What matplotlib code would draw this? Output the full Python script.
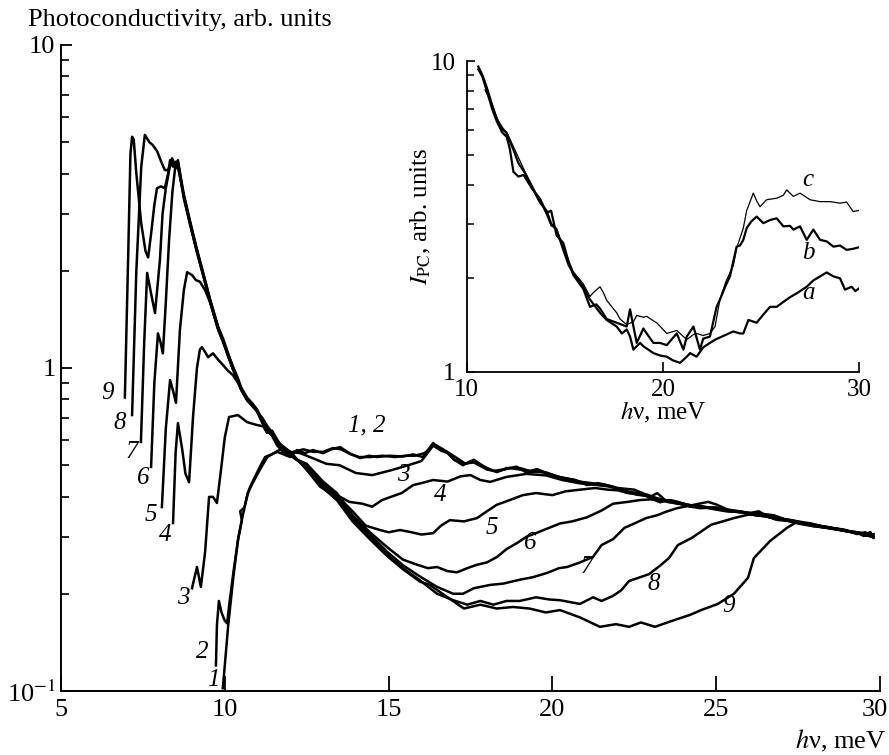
import matplotlib
matplotlib.use('Agg')
import matplotlib.pyplot as plt
import matplotlib.transforms as mtransforms
from matplotlib.ticker import FixedLocator, FixedFormatter, LogLocator, NullLocator, NullFormatter

plt.rcParams['font.family'] = ['Liberation Serif', 'DejaVu Serif']
plt.rcParams['mathtext.fontset'] = 'stix'

# ---------------- main panel data (hv in meV, photoconductivity arb. units) ----------------
c1_x = [9.94, 10.0, 10.1, 10.25, 10.4, 10.52, 10.47, 10.6, 10.68, 10.77, 10.92, 11.07, 11.23, 11.38, 11.6, 11.8,
        12.0, 12.2, 12.45, 12.69, 13.0, 13.25, 13.52, 13.8, 14.13, 14.4, 14.65, 15.0, 15.44, 15.75, 16.05, 16.36,
        16.55, 16.78, 17.0, 17.27, 17.5, 17.7, 18.0, 18.31, 18.6, 19.01, 19.3, 19.53, 19.9, 20.32, 20.7, 21.06,
        21.4, 21.8, 22.28, 22.7, 23.0, 23.28, 23.6, 23.9, 24.29, 24.6, 25.0, 25.33, 25.6, 26.0, 26.34, 26.7,
        27.0, 27.34, 27.7, 28.0, 28.38, 28.7, 29.0, 29.39, 29.6, 29.75]
c1_y = [0.102, 0.12, 0.158, 0.22, 0.293, 0.338, 0.36, 0.37, 0.40, 0.428, 0.46, 0.494, 0.53, 0.538, 0.55, 0.54,
        0.53, 0.557, 0.545, 0.557, 0.545, 0.56, 0.569, 0.545, 0.526, 0.535, 0.53, 0.535, 0.532, 0.54, 0.53, 0.586,
        0.56, 0.55, 0.52, 0.50, 0.515, 0.51, 0.49, 0.476, 0.49, 0.49, 0.48, 0.486, 0.47, 0.456, 0.45, 0.434,
        0.44, 0.43, 0.413, 0.41, 0.395, 0.384, 0.39, 0.38, 0.371, 0.372, 0.366, 0.363, 0.36, 0.356, 0.351, 0.345,
        0.342, 0.334, 0.33, 0.326, 0.32, 0.316, 0.313, 0.309, 0.305, 0.30]

c2_x = [9.73, 9.76, 9.82, 9.9, 10.0, 10.07, 10.15, 10.28, 10.42, 10.55, 10.7, 10.85, 11.0, 11.15, 11.3, 11.5,
        11.7, 11.9, 12.1, 12.4, 12.7, 13.0, 13.3, 13.55, 13.85, 14.1, 14.45, 14.8, 15.2, 15.5, 15.8, 16.1, 16.4,
        16.6, 16.85, 17.1, 17.35, 17.6, 17.9, 18.2, 18.5, 18.9, 19.2, 19.6, 20.0, 20.4, 20.8, 21.2, 21.6, 22.0,
        22.5, 23.0, 23.2, 23.5, 24.0, 24.5, 25.0, 25.5, 26.0, 26.3, 26.6, 27.0, 27.5, 28.0, 28.5, 29.0, 29.3,
        29.5, 29.7, 29.8]
c2_y = [0.12, 0.16, 0.19, 0.175, 0.165, 0.162, 0.19, 0.24, 0.30, 0.35, 0.41, 0.44, 0.47, 0.50, 0.53, 0.545,
        0.56, 0.535, 0.55, 0.56, 0.55, 0.55, 0.565, 0.56, 0.54, 0.53, 0.53, 0.535, 0.53, 0.535, 0.535, 0.545, 0.58,
        0.565, 0.545, 0.525, 0.505, 0.52, 0.495, 0.48, 0.485, 0.495, 0.475, 0.48, 0.465, 0.455, 0.445, 0.44, 0.435,
        0.425, 0.42, 0.40, 0.41, 0.385, 0.38, 0.368, 0.37, 0.36, 0.355, 0.36, 0.345, 0.34, 0.33, 0.323, 0.32,
        0.312, 0.31, 0.302, 0.31, 0.298]

c3_x = [9.0, 9.15, 9.27, 9.4, 9.52, 9.64, 9.76, 9.88, 10.0, 10.13, 10.4, 10.68, 10.98, 11.17, 11.29, 11.44,
        11.6, 11.8, 12.0, 12.3, 12.8, 13.1, 13.5, 14.0, 14.5, 15.1, 15.6, 16.0, 16.36, 16.6, 16.8, 17.0, 17.3,
        17.6, 18.0, 18.3, 18.7, 19.0, 19.4, 19.8, 20.2, 20.6, 21.0, 21.4, 21.8, 22.2, 22.6, 23.0, 23.4, 23.8,
        24.2, 24.6, 25.0, 25.4, 25.8, 26.2, 26.6, 27.0, 27.4, 27.8, 28.2, 28.6, 29.0, 29.3, 29.55, 29.8]
c3_y = [0.208, 0.242, 0.21, 0.27, 0.399, 0.399, 0.382, 0.48, 0.61, 0.705, 0.715, 0.68, 0.666, 0.66, 0.63, 0.64,
        0.60, 0.56, 0.55, 0.545, 0.52, 0.505, 0.50, 0.473, 0.466, 0.483, 0.50, 0.515, 0.575, 0.555, 0.545, 0.52,
        0.505, 0.51, 0.485, 0.478, 0.49, 0.485, 0.478, 0.475, 0.46, 0.452, 0.44, 0.435, 0.43, 0.415, 0.405, 0.40,
        0.39, 0.385, 0.372, 0.37, 0.368, 0.36, 0.358, 0.35, 0.346, 0.34, 0.333, 0.328, 0.322, 0.318, 0.313, 0.306,
        0.31, 0.30]

c4_x = [8.42, 8.5, 8.57, 8.7, 8.8, 8.91, 9.03, 9.15, 9.24, 9.3, 9.4, 9.49, 9.64, 9.8, 9.95, 10.1, 10.25,
        10.4, 10.55, 10.7, 10.85, 11.0, 11.15, 11.3, 11.45, 11.6, 11.8, 12.0, 12.3, 12.6, 12.9, 13.2, 13.5,
        13.8, 14.2, 14.5, 14.8, 15.1, 15.4, 15.75, 16.0, 16.36, 16.8, 17.2, 17.5, 17.8, 18.1, 18.6, 19.2, 19.8,
        20.3, 20.8, 21.3, 21.7, 22.1, 22.5, 22.9, 23.3, 23.7, 24.1, 24.5, 24.9, 25.3, 25.7, 26.1, 26.5, 26.9,
        27.3, 27.7, 28.1, 28.5, 28.9, 29.2, 29.5, 29.7]
c4_y = [0.331, 0.55, 0.675, 0.56, 0.47, 0.443, 0.705, 1.0, 1.14, 1.16, 1.12, 1.08, 1.11, 1.06, 1.02, 0.98,
        0.95, 0.90, 0.84, 0.79, 0.76, 0.73, 0.70, 0.66, 0.63, 0.59, 0.57, 0.55, 0.51, 0.47, 0.43, 0.41, 0.40,
        0.385, 0.38, 0.372, 0.39, 0.40, 0.41, 0.434, 0.44, 0.45, 0.445, 0.462, 0.466, 0.45, 0.444, 0.46, 0.47,
        0.465, 0.45, 0.44, 0.435, 0.43, 0.42, 0.41, 0.405, 0.39, 0.385, 0.375, 0.374, 0.366, 0.36, 0.36, 0.352,
        0.348, 0.338, 0.336, 0.33, 0.325, 0.32, 0.315, 0.31, 0.306, 0.302]

c5_x = [8.08, 8.2, 8.33, 8.42, 8.51, 8.63, 8.75, 8.85, 9.0, 9.12, 9.24, 9.4, 9.55, 9.8, 9.95, 10.1, 10.25,
        10.4, 10.5, 10.68, 10.85, 10.98, 11.15, 11.3, 11.45, 11.6, 11.8, 12.0, 12.2, 12.5, 12.7, 13.0, 13.4,
        13.9, 14.3, 14.74, 15.0, 15.35, 15.7, 16.0, 16.36, 16.6, 16.87, 17.3, 17.7, 18.0, 18.3, 18.7, 19.1,
        19.5, 20.0, 20.4, 20.85, 21.3, 21.7, 22.0, 22.3, 22.7, 23.0, 23.3, 23.7, 24.1, 24.5, 24.9, 25.3, 25.7,
        26.1, 26.5, 26.8, 27.2, 27.6, 28.0, 28.4, 28.8, 29.2, 29.5, 29.75]
c5_y = [0.371, 0.65, 0.918, 0.85, 0.78, 1.31, 1.74, 1.98, 1.94, 1.87, 1.85, 1.74, 1.6, 1.32, 1.2, 1.09, 0.99,
        0.91, 0.86, 0.80, 0.77, 0.74, 0.69, 0.65, 0.62, 0.585, 0.555, 0.54, 0.52, 0.50, 0.47, 0.44, 0.405,
        0.36, 0.325, 0.315, 0.31, 0.315, 0.31, 0.305, 0.308, 0.325, 0.338, 0.335, 0.343, 0.36, 0.377, 0.39, 0.404,
        0.41, 0.404, 0.415, 0.42, 0.425, 0.42, 0.418, 0.41, 0.405, 0.40, 0.39, 0.388, 0.378, 0.372, 0.37, 0.362,
        0.36, 0.352, 0.35, 0.34, 0.338, 0.33, 0.325, 0.322, 0.315, 0.31, 0.308, 0.30]

c6_x = [7.75, 7.85, 7.96, 8.04, 8.11, 8.2, 8.3, 8.4, 8.5, 8.57, 8.75, 8.94, 9.15, 9.33, 9.55, 9.8, 9.95,
        10.1, 10.25, 10.4, 10.5, 10.68, 10.85, 10.98, 11.15, 11.3, 11.45, 11.6, 11.8, 12.0, 12.2, 12.5, 12.7,
        13.0, 13.42, 13.9, 14.43, 14.95, 15.44, 15.87, 16.2, 16.48, 16.8, 17.09, 17.4, 17.7, 18.0, 18.31, 18.6,
        18.92, 19.2, 19.53, 19.9, 20.23, 20.6, 21.06, 21.5, 21.85, 22.3, 22.67, 23.0, 23.4, 23.8, 24.2, 24.6,
        25.0, 25.4, 25.8, 26.2, 26.6, 27.0, 27.4, 27.8, 28.2, 28.6, 29.0, 29.3, 29.6, 29.8]
c6_y = [0.494, 0.9, 1.28, 1.2, 1.11, 1.6, 2.5, 3.5, 4.3, 4.35, 3.45, 2.85, 2.33, 1.99, 1.63, 1.34, 1.23,
        1.11, 1.01, 0.93, 0.87, 0.81, 0.775, 0.745, 0.69, 0.645, 0.625, 0.585, 0.555, 0.54, 0.52, 0.505, 0.48,
        0.445, 0.41, 0.35, 0.31, 0.279, 0.255, 0.246, 0.24, 0.242, 0.235, 0.233, 0.24, 0.246, 0.25, 0.26, 0.275,
        0.287, 0.30, 0.309, 0.32, 0.33, 0.335, 0.345, 0.362, 0.38, 0.385, 0.39, 0.392, 0.388, 0.38, 0.376, 0.37,
        0.366, 0.36, 0.357, 0.35, 0.347, 0.34, 0.335, 0.328, 0.322, 0.317, 0.312, 0.308, 0.302, 0.306]

c7_x = [7.44, 7.54, 7.63, 7.75, 7.87, 8.02, 8.1, 8.2, 8.33, 8.39, 8.48, 8.57, 8.75, 8.94, 9.15, 9.33, 9.55,
        9.8, 9.95, 10.1, 10.25, 10.4, 10.5, 10.68, 10.85, 10.98, 11.15, 11.3, 11.45, 11.6, 11.8, 12.0, 12.2,
        12.5, 12.7, 13.0, 13.42, 13.9, 14.43, 14.95, 15.44, 15.96, 16.48, 16.97, 17.27, 17.6, 18.1, 18.5, 19.0,
        19.4, 19.84, 20.2, 20.45, 20.84, 21.24, 21.5, 21.85, 22.2, 22.5, 22.86, 23.2, 23.44, 23.8, 24.26, 24.75,
        25.0, 25.33, 25.7, 26.1, 26.5, 26.9, 27.3, 27.7, 28.1, 28.5, 28.9, 29.2, 29.5, 29.7]
c7_y = [0.59, 1.2, 1.97, 1.7, 1.48, 2.16, 3.0, 3.6, 4.25, 4.46, 4.25, 4.4, 3.35, 2.78, 2.28, 1.95, 1.6,
        1.31, 1.21, 1.09, 0.99, 0.915, 0.855, 0.795, 0.765, 0.735, 0.675, 0.64, 0.615, 0.575, 0.55, 0.535, 0.52,
        0.50, 0.47, 0.435, 0.40, 0.345, 0.305, 0.27, 0.245, 0.226, 0.21, 0.20, 0.20, 0.208, 0.213, 0.215, 0.221,
        0.225, 0.232, 0.24, 0.242, 0.25, 0.26, 0.283, 0.295, 0.32, 0.33, 0.343, 0.35, 0.358, 0.368, 0.376, 0.385,
        0.378, 0.365, 0.36, 0.355, 0.35, 0.342, 0.338, 0.33, 0.326, 0.32, 0.316, 0.31, 0.305, 0.31]

c8_x = [7.17, 7.3, 7.45, 7.56, 7.7, 7.8, 7.93, 8.08, 8.17, 8.27, 8.35, 8.42, 8.5, 8.57, 8.75, 8.94, 9.15,
        9.33, 9.55, 9.8, 9.95, 10.1, 10.25, 10.4, 10.5, 10.68, 10.85, 10.98, 11.15, 11.3, 11.45, 11.6, 11.8,
        12.0, 12.2, 12.5, 12.7, 13.0, 13.42, 13.9, 14.43, 14.95, 15.44, 15.96, 16.48, 16.97, 17.4, 17.8, 18.2,
        18.6, 19.0, 19.5, 19.9, 20.23, 20.84, 21.24, 21.5, 21.85, 22.1, 22.34, 22.95, 23.3, 23.56, 23.83, 24.26,
        24.84, 25.2, 25.54, 25.9, 26.25, 26.76, 27.1, 27.5, 27.9, 28.3, 28.7, 29.0, 29.3, 29.55, 29.8]
c8_y = [0.715, 2.0, 4.2, 5.27, 5.0, 4.9, 4.7, 4.3, 4.1, 4.1, 4.3, 4.2, 4.35, 4.2, 3.4, 2.82, 2.31,
        1.98, 1.63, 1.33, 1.22, 1.1, 1.0, 0.92, 0.86, 0.80, 0.77, 0.74, 0.68, 0.64, 0.62, 0.58, 0.55,
        0.54, 0.52, 0.495, 0.465, 0.43, 0.395, 0.34, 0.30, 0.265, 0.24, 0.22, 0.20, 0.191, 0.185, 0.19, 0.185,
        0.19, 0.19, 0.195, 0.192, 0.191, 0.186, 0.195, 0.19, 0.197, 0.205, 0.219, 0.23, 0.245, 0.258, 0.283, 0.298,
        0.327, 0.335, 0.343, 0.35, 0.355, 0.35, 0.34, 0.335, 0.33, 0.322, 0.318, 0.312, 0.31, 0.303, 0.305]

c9_x = [6.95, 7.05, 7.12, 7.17, 7.22, 7.3, 7.45, 7.58, 7.66, 7.75, 7.85, 7.93, 8.05, 8.17, 8.27, 8.33, 8.42,
        8.5, 8.57, 8.75, 8.94, 9.15, 9.33, 9.55, 9.8, 9.95, 10.1, 10.25, 10.4, 10.5, 10.68, 10.85, 10.98, 11.15,
        11.3, 11.45, 11.6, 11.8, 12.0, 12.2, 12.5, 12.7, 13.0, 13.42, 13.9, 14.43, 14.95, 15.44, 15.96, 16.26,
        16.8, 17.3, 17.8, 18.3, 18.8, 19.3, 19.8, 20.23, 20.84, 21.45, 21.94, 22.34, 22.7, 23.13, 23.74, 24.2,
        24.54, 25.05, 25.54, 25.97, 26.15, 26.64, 27.16, 27.47, 27.8, 28.2, 28.6, 29.0, 29.3, 29.6, 29.8]
c9_y = [0.81, 2.2, 4.6, 5.2, 5.1, 4.0, 2.8, 2.3, 2.2, 2.6, 3.2, 3.6, 3.65, 3.6, 4.0, 4.4, 4.3,
        4.15, 4.25, 3.38, 2.8, 2.29, 1.96, 1.61, 1.32, 1.21, 1.1, 1.0, 0.92, 0.86, 0.8, 0.77, 0.74, 0.68,
        0.64, 0.62, 0.58, 0.55, 0.54, 0.52, 0.49, 0.465, 0.425, 0.39, 0.335, 0.295, 0.262, 0.238, 0.218, 0.213,
        0.195, 0.18, 0.185, 0.18, 0.182, 0.18, 0.175, 0.178, 0.169, 0.158, 0.161, 0.158, 0.163, 0.158, 0.166, 0.172,
        0.178, 0.186, 0.20, 0.224, 0.258, 0.291, 0.32, 0.334, 0.328, 0.322, 0.318, 0.312, 0.308, 0.303, 0.30]

main_curves = [(c1_x, c1_y), (c2_x, c2_y), (c3_x, c3_y), (c4_x, c4_y), (c5_x, c5_y),
               (c6_x, c6_y), (c7_x, c7_y), (c8_x, c8_y), (c9_x, c9_y)]

# curve labels: text, hv, value
label_text = ['9', '8', '7', '6', '5', '4', '3', '2', '1',
              '1, 2', '3', '4', '5', '6', '7', '8', '9']
label_x = [6.43, 6.80, 7.17, 7.50, 7.75, 8.17, 8.72, 9.30, 9.64,
           14.34, 15.44, 16.57, 18.16, 19.32, 21.06, 23.10, 25.39]
label_y = [0.837, 0.676, 0.55, 0.456, 0.351, 0.304, 0.194, 0.132, 0.108,
           0.666, 0.466, 0.404, 0.32, 0.287, 0.242, 0.214, 0.183]

main_xticks = [5, 10, 15, 20, 25, 30]
main_yticks = [0.1, 1, 10]
main_yticklabels = [r'10$^{-1}$', '1', '10']

# ---------------- inset data ----------------
a_x = [10.59, 10.8, 11.0, 11.3, 11.53, 11.8, 12.04, 12.38, 12.63, 12.97, 13.31, 13.74, 14.07, 14.3, 14.58, 14.92,
       15.2, 15.43, 15.94, 16.28, 16.79, 17.13, 17.64, 17.9, 18.15, 18.32, 18.49, 18.83, 19.0, 19.51, 19.85, 20.19,
       20.5, 20.87, 21.21, 21.38, 21.71, 22.05, 22.39, 22.65, 23.0, 23.58, 23.92, 24.09, 24.35, 24.77, 25.11,
       25.45, 25.79, 26.13, 26.47, 26.81, 27.32, 27.66, 28.0, 28.34, 28.68, 29.02, 29.27, 29.61, 29.8, 30.0]
a_y = [9.6, 9.0, 8.3, 7.2, 6.5, 6.1, 5.85, 5.18, 4.7, 4.36, 3.94, 3.5, 3.3, 3.0, 2.86, 2.47,
       2.2, 2.08, 1.88, 1.71, 1.55, 1.47, 1.40, 1.33, 1.37, 1.3, 1.18, 1.24, 1.21, 1.15, 1.13, 1.12,
       1.09, 1.07, 1.12, 1.15, 1.12, 1.2, 1.24, 1.27, 1.3, 1.35, 1.33, 1.33, 1.47, 1.44, 1.53,
       1.62, 1.62, 1.68, 1.74, 1.79, 1.88, 1.97, 2.03, 2.09, 2.03, 2.0, 1.84, 1.88, 1.82, 1.86]

b_x = [10.59, 10.8, 11.0, 11.3, 11.53, 11.8, 12.04, 12.2, 12.38, 12.63, 12.9, 13.31, 13.74, 14.07, 14.3, 14.58,
       14.92, 15.2, 15.43, 15.94, 16.28, 16.6, 16.79, 17.13, 17.64, 18.15, 18.32, 18.66, 19.0, 19.17, 19.51,
       19.85, 20.19, 20.7, 21.04, 21.21, 21.55, 21.88, 22.05, 22.39, 22.56, 22.73, 22.9, 23.2, 23.41, 23.75,
       23.92, 24.09, 24.26, 24.5, 24.77, 25.11, 25.45, 25.79, 26.13, 26.47, 26.64, 26.98, 27.32, 27.66, 28.0,
       28.34, 28.68, 29.02, 29.35, 29.69, 30.0]
b_y = [9.4, 8.9, 8.1, 7.0, 6.4, 5.9, 5.7, 5.2, 4.4, 4.25, 4.3, 3.9, 3.6, 3.25, 3.3, 2.75,
       2.6, 2.25, 2.05, 1.85, 1.62, 1.65, 1.6, 1.48, 1.44, 1.40, 1.59, 1.24, 1.38, 1.33, 1.24,
       1.24, 1.22, 1.33, 1.18, 1.3, 1.40, 1.18, 1.28, 1.30, 1.45, 1.62, 1.71, 1.9, 2.03, 2.53,
       2.55, 2.66, 2.9, 3.05, 3.16, 3.01, 3.08, 3.12, 2.94, 2.95, 2.87, 2.94, 2.66, 2.87, 2.66,
       2.63, 2.53, 2.55, 2.47, 2.49, 2.52]

c_x = [10.93, 11.2, 11.53, 11.8, 12.04, 12.38, 12.63, 12.97, 13.31, 13.74, 14.07, 14.3, 14.58, 14.92, 15.43,
       15.94, 16.28, 16.45, 16.79, 16.96, 17.13, 17.64, 17.81, 18.15, 18.49, 18.66, 19.0, 19.17, 19.51, 19.68,
       20.19, 20.7, 21.04, 21.21, 21.55, 21.71, 22.05, 22.39, 22.65, 22.9, 23.2, 23.58, 23.75, 24.09, 24.26,
       24.6, 24.77, 24.94, 25.28, 25.79, 26.13, 26.3, 26.64, 26.98, 27.49, 28.0, 28.51, 29.02, 29.35, 29.69, 30.0]
c_y = [8.07, 7.5, 6.6, 6.0, 5.9, 5.3, 4.9, 4.4, 4.0, 3.55, 3.2, 2.95, 2.9, 2.5, 2.1,
       1.92, 1.75, 1.80, 1.88, 1.80, 1.70, 1.55, 1.48, 1.42, 1.45, 1.52, 1.50, 1.51, 1.46, 1.44,
       1.33, 1.36, 1.30, 1.27, 1.32, 1.33, 1.31, 1.33, 1.40, 1.71, 1.95, 2.2, 2.5, 2.9, 3.3,
       3.76, 3.55, 3.4, 3.58, 3.62, 3.7, 3.85, 3.67, 3.76, 3.58, 3.53, 3.53, 3.49, 3.52, 3.28, 3.31]

inset_label_text = ['c', 'b', 'a']
inset_label_x = [27.39, 27.39, 27.39]
inset_label_y = [4.14, 2.41, 1.79]

inset_xticks = [10, 20, 30]
inset_yticks = [1, 10]
inset_yticklabels = ['1', '10']

# ---------------- figure ----------------
fig = plt.figure(figsize=(8.89, 7.55), dpi=100)
ax = fig.add_axes([0.0686, 0.0848, 0.9213, 0.8556])

for xs, ys in main_curves:
    ax.plot(xs, ys, color='black', lw=1.8, solid_joinstyle='round')

ax.set_yscale('log')
ax.set_xlim(5, 30)
ax.set_ylim(0.1, 10)
for s in ['top', 'right']:
    ax.spines[s].set_visible(False)
for s in ['left', 'bottom']:
    ax.spines[s].set_linewidth(1.4)

ax.xaxis.set_major_locator(FixedLocator(main_xticks))
ax.xaxis.set_minor_locator(NullLocator())
ax.yaxis.set_major_locator(FixedLocator(main_yticks))
ax.yaxis.set_major_formatter(FixedFormatter(main_yticklabels))
ax.yaxis.set_minor_locator(LogLocator(base=10, subs=range(2, 10)))
ax.yaxis.set_minor_formatter(NullFormatter())
ax.tick_params(axis='x', which='major', direction='in', length=11, width=1.3, labelsize=19, pad=6)
ax.tick_params(axis='y', which='major', direction='in', length=8, width=1.3, labelsize=19, pad=4)
ax.tick_params(axis='y', which='minor', direction='in', length=6, width=1.2)

for t, xv, yv in zip(label_text, label_x, label_y):
    ax.text(xv, yv, t, fontsize=18, style='italic', ha='center', va='center')

fig.text(28 / 889, 1 - 26 / 755, 'Photoconductivity, arb. units', fontsize=19, ha='left', va='baseline')
fig.text(886 / 889, 1 - 748 / 755, r'$\it{h}$ν, meV', fontsize=19, ha='right', va='baseline')

# ---------------- inset ----------------
ax2 = fig.add_axes([0.525, 0.5073, 0.4416, 0.4119])
ax2.set_facecolor('none')
ax2.plot(a_x, a_y, color='black', lw=1.6)
ax2.plot(b_x, b_y, color='black', lw=1.6)
ax2.plot(c_x, c_y, color='black', lw=0.9)
ax2.set_yscale('log')
ax2.set_xlim(10, 30)
ax2.set_ylim(1, 10)
for s in ['top', 'right']:
    ax2.spines[s].set_visible(False)
for s in ['left', 'bottom']:
    ax2.spines[s].set_linewidth(1.3)
ax2.xaxis.set_major_locator(FixedLocator(inset_xticks))
ax2.xaxis.set_minor_locator(NullLocator())
ax2.yaxis.set_major_locator(FixedLocator(inset_yticks))
ax2.yaxis.set_major_formatter(FixedFormatter(inset_yticklabels))
ax2.yaxis.set_minor_locator(LogLocator(base=10, subs=range(2, 10)))
ax2.yaxis.set_minor_formatter(NullFormatter())
ax2.tick_params(axis='x', which='major', direction='in', length=7, width=1.2, labelsize=18, pad=5)
ax2.tick_params(axis='y', which='major', direction='in', length=6, width=1.2, labelsize=18, pad=8)
ax2.tick_params(axis='y', which='minor', direction='in', length=5, width=1.1)
ax2.set_xlabel(r'$\it{h}$ν, meV', fontsize=18, labelpad=-1)
ax2.set_ylabel(r'$I_{\rm PC}$, arb. units', fontsize=18, labelpad=-2)

for t, xv, yv in zip(inset_label_text, inset_label_x, inset_label_y):
    ax2.text(xv, yv, t, fontsize=18, style='italic', ha='center', va='center')

# keep the last main x tick label inside the figure
fig.canvas.draw()
last_lbl = ax.get_xticklabels()[-1]
last_lbl.set_horizontalalignment('right')
last_lbl.set_transform(last_lbl.get_transform() + mtransforms.ScaledTranslation(8 / 100, 0, fig.dpi_scale_trans))

fig.savefig('out.png', dpi=100)
